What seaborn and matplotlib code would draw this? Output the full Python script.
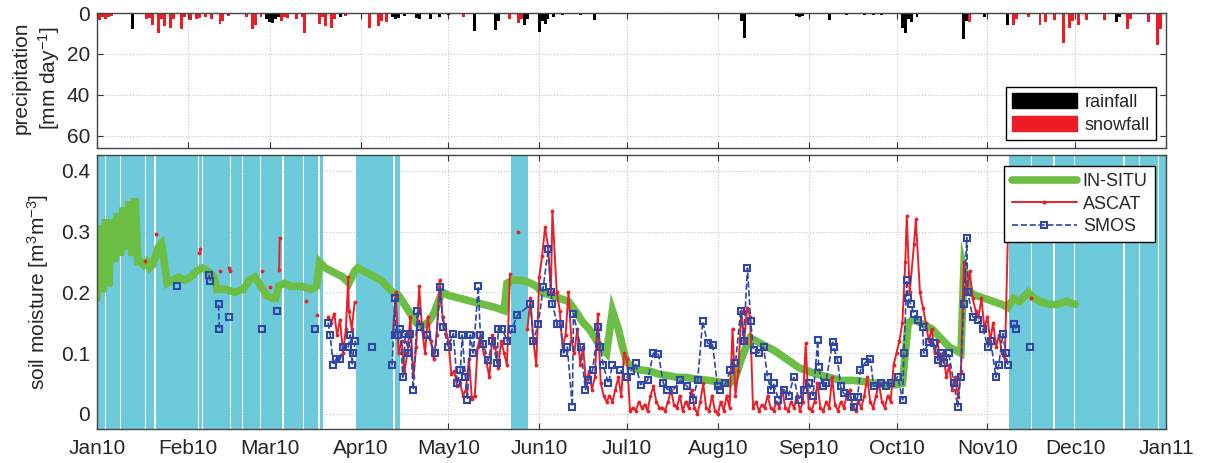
import numpy as np
import pandas as pd
import matplotlib
matplotlib.use("Agg")
import matplotlib.pyplot as plt
import matplotlib.dates as mdates
from matplotlib.lines import Line2D
from matplotlib.patches import Patch
import seaborn as sns

# all days are counted from 1 Jan 2010 (day 0)
rain_day = [12, 34, 58, 59, 60, 61, 62, 83, 101, 102, 103, 105, 109, 110, 114, 117, 120,
            129, 136, 137, 146, 147, 151, 152, 153, 154, 156, 159, 165, 170, 220, 221,
            239, 240, 241, 250, 256, 262, 265, 268, 275, 276, 277, 278, 280, 296, 297,
            303, 311, 348, 349]
rain_mm = [8, 1.5, 3, 4.5, 5, 3, 2, 2, 2, 3, 2.5, 1.5, 2.5, 3, 3, 2, 1,
           8.6, 8.5, 4, 6, 3, 9.5, 4, 5.5, 3, 2, 1, 0.8, 3.2, 4, 12,
           1.5, 2, 1.5, 3.5, 0.8, 1, 1, 1, 7.3, 10, 3, 4.5, 2, 12.5, 4,
           2, 6, 4.5, 2]

snow_day = [0, 1, 2, 3, 4, 5, 17, 18, 19, 21, 22, 23, 25, 26, 29, 30, 32, 34, 35, 37, 39,
            42, 43, 45, 51, 53, 54, 56, 63, 64, 65, 68, 70, 71, 76, 77, 78, 80, 81, 85,
            93, 96, 97, 99, 125, 141, 144, 145, 298, 313, 314, 318, 322, 324, 327, 330,
            332, 333, 335, 338, 344, 352, 353, 359, 362, 363]
snow_mm = [4, 3.5, 2, 3, 2, 1.5, 3, 2.5, 5.7, 9.8, 3, 6.3, 7.3, 3, 8, 2, 3.5, 3, 2.5, 2, 3,
           5.6, 4, 1.5, 2, 8, 6, 2, 4, 2, 2.5, 3, 2, 9.8, 5.6, 2, 6.3, 7.3, 3, 1.5,
           7.3, 6.3, 4, 4.5, 2, 3, 5, 3, 4.5, 6, 3, 2, 6, 4.5, 3.5, 14.6,
           7.3, 4, 6, 3.5, 3.5, 8, 3, 4.5, 15.5, 8]

# frozen-soil periods (shaded)
frozen_start = [0, 3.0, 8.2, 16.8, 20.3, 35.0, 36.3, 45.8, 50.0, 56.0, 63.8, 70.7, 76.0,
                88.5, 101.6, 141.5, 311.3, 319.2, 327.0, 333.9, 350.9, 356.3, 362.6]
frozen_end = [2.6, 7.8, 16.3, 19.6, 34.4, 35.8, 45.4, 49.5, 55.6, 63.2, 70.3, 75.4, 77.3,
              101.2, 103.6, 147.3, 318.8, 326.6, 333.5, 350.5, 355.9, 362.2, 365]

insitu_day = [0, 1, 2, 3, 4, 5, 6, 7, 8, 9, 10, 11, 12, 13, 14, 15, 16, 17, 18, 19, 20, 21, 22,
              23, 24, 26, 28, 30, 32, 34, 36, 38, 40, 41, 44, 47, 50, 52, 54, 56, 58, 60, 61,
              62, 64, 66, 70, 73, 75, 76, 78, 80, 82, 84, 85, 86, 88, 89, 91, 93, 95, 97, 99,
              101, 103, 105, 107, 109, 111, 113, 115, 117, 118, 120, 124, 128, 132, 136, 139,
              140, 142, 145, 148, 150, 152, 155, 158, 161, 164, 166, 168, 170, 172, 174, 175,
              176, 178, 180, 181, 183, 186, 189, 192, 195, 198, 201, 205, 209, 213, 216, 218,
              220, 222, 223, 225, 228, 231, 234, 237, 240, 243, 246, 250, 254, 258, 262, 266,
              270, 273, 275, 276, 277, 279, 281, 283, 285, 287, 289, 291, 293, 295, 296, 297,
              298, 300, 303, 306, 309, 311, 313, 315, 318, 320, 322, 325, 328, 331, 334]
insitu_sm = [.19, .31, .20, .32, .21, .32, .25, .33, .26, .34, .27, .35, .26, .355, .25, .25, .245,
             .25, .24, .245, .26, .275, .28, .25, .215, .22, .225, .22, .225, .235, .24, .235,
             .225, .205, .205, .20, .205, .22, .225, .21, .195, .19, .19, .21, .215, .21, .21,
             .205, .21, .25, .24, .235, .23, .225, .22, .215, .235, .24, .235, .23, .225, .22,
             .21, .20, .195, .18, .165, .15, .145, .15, .165, .19, .20, .195, .19, .185, .18,
             .175, .17, .215, .22, .22, .215, .21, .20, .195, .19, .185, .165, .15, .14, .125,
             .11, .10, .135, .17, .14, .10, .085, .075, .072, .07, .065, .063, .06, .06, .057,
             .055, .052, .05, .06, .09, .115, .125, .12, .112, .105, .095, .085, .075, .07,
             .065, .06, .055, .055, .053, .05, .048, .048, .05, .10, .15, .155, .15, .145, .14,
             .13, .12, .11, .105, .10, .24, .22, .20, .195, .19, .185, .18, .175, .19, .185,
             .20, .19, .185, .18, .18, .185, .18]

nan = np.nan
# nan entries break the line
ascat_day = [16.4, nan, 20.2, nan, 35.0, 35.3, nan, 42.0, nan, 45.1, 45.5, nan, 56.4, nan,
             59.0, nan, 62.2, 62.4, nan, 71.4, nan, 75.2, nan,
             79, 80, 81, 82, 83, 84, 85, 85.8, 86, 87, 88, nan,
             101, 102, 103, 104, 105, 106, 107, 108, 109, 110, 111, 112, 113, 114, 115, 116,
             117, 118, 119, 120, 121, 122, 123, 124, 125, 126, 127, 128, 129, 130, 131, 132,
             133, 134, 135, 136, 137, 138, 139, 140, 141, nan, 143.9, nan,
             147, 148, 149, 150, 151, 152, 153, 154, 155, 155.5, 157, 158, 159, 160, 161, 162,
             163, 164, 165, 166, 167, 168, 169, 170, 171, 172, 173, 174, 175, 176, 177, 178,
             179, 180, 181, 182, 183, 184, 185, 186, 187, 188, 189, 190, 191, 192, 193, 194,
             195, 196, 197, 198, 199, 200, 201, 202, 203, 204, 205, 206, 207, 208, 209, 210,
             211, 212, 213, 214, 215, 216, 217, 218, 219, 220, 221, 222, 223, 224, 225, 226,
             227, 228, 229, 230, 231, 232, 233, 234, 235, 236, 237, 238, 239, 240, 241, 242,
             243, 244, 245, 246, 247, 248, 249, 250, 251, 252, 253, 254, 255, 256, 257, 258,
             259, 260, 261, 262, 263, 264, 265, 266, 267, 268, 269, 270, 271, 272, 273, 274,
             275, 276, 276.5, 277.5, 279, 279.6, 281, 282, 283, 284, 285, 286, 287, 288, 289,
             290, 291, 292, 293, 294, 295, 296, 297, 298, 299, 300, 301, 302, 303, 304, 305,
             306, 307, 308, 309, 310, 311, nan, 318.9]
ascat_sm = [.251, nan, .296, nan, .265, .272, nan, .235, nan, .24, .235, nan, .235, nan,
            .209, nan, .236, .29, nan, .185, nan, .162, nan,
            .16, .15, .165, .13, .155, .10, .14, .225, .17, .14, .184, nan,
            .13, .20, .10, .12, .07, .10, .16, .06, .11, .21, .14, .10, .16, .12, .09, .13,
            .22, .16, .14, .12, .065, .07, .045, .05, .03, .04, .09, .025, .03, .11, .13, .10,
            .085, .06, .13, .11, .075, .12, .10, .08, .23, nan, .30, nan,
            .14, .19, .12, .08, .225, .26, .307, .276, .20, .334, .20, .17, .11, .13, .20, .12,
            .10, .14, .08, .11, .05, .07, .04, .06, .165, .05, .03, .02, .03, .02, .04, .06,
            .03, .10, .09, .005, .01, .005, .02, .01, .015, .005, .03, .045, .02, .01, .01, .005,
            .02, .04, .015, .01, .03, .005, .02, .01, .04, .01, .0, .02, .05, .01, .005, .03,
            .005, .0, .02, .005, .03, .01, .14, .03, .07, .17, .12, .175, .16, .01, .02, .005,
            .015, .01, .03, .01, .005, .02, .01, .04, .01, .005, .02, .01, .03, .005, .02, .116,
            .01, .005, .02, .05, .01, .005, .02, .01, .06, .015, .005, .02, .01, .03, .04, .01,
            .005, .02, .01, .03, .06, .02, .01, .03, .05, .02, .01, .03, .02, .08, .10, .12,
            .15, .25, .326, .20, .28, .32, .20, .175, .15, .12, .14, .10, .12, .08, .10,
            .06, .08, .04, .06, .028, .07, .25, .20, .235, .19, .17, .16, .19, .14, .16, .12,
            .15, .11, .13, .10, .09, .29, nan, .19]

smos_day = [27.3, nan, 38.3, 38.6, nan, 41.5, 41.8, nan, 45.1, nan, 56.4, nan, 61.5, nan,
            74.5, nan,
            78.9, 79.6, 80.7, 81.6, 83.0, 84.0, 85.8, 86.5, 87.1, 87.5, 88.2, nan, 94.0, nan,
            100.8, 101.7, 101.9, 102.7, 103.6, 104.4, 105.3, 106.3, 107.0, 108.0, 109.4,
            110.4, 112.8, 115.5, 117.2, 118.2, 120.0, 121.7, 123.0, 124.1, 124.7, 125.8,
            126.5, 127.5, 128.5, 130.2, 130.9, 131.9, 133.6, 135.0, 136.7, 137.0, 138.4,
            140.1, 141.8, 143.5, 148.0, 149.0, 150.7, 152.4, 154.1, 155.0, 155.5, 157.2,
            158.2, 159.3, 160.6, 162.3, 162.7, 165.1, 166.8, 167.8, 169.2, 171.2, 171.9,
            172.9, 174.6, 176.0, 178.7, 181.1, 182.2, 183.9, 185.6, 188.0, 190.0, 191.7,
            193.4, 194.8, 196.9, 199.2, 201.6, 203.4, 205.1, 206.8, 208.5, 210.2, 211.9,
            212.9, 214.6, 216.3, 218.0, 219.8, 220.8, 222.1, 223.2, 224.2, 225.9, 227.6,
            229.0, 230.0, 231.0, 232.7, 234.5, 236.2, 237.9, 239.6, 241.3, 243.0, 244.5,
            246.1, 246.4, 247.8, 248.8, 251.2, 251.5, 252.9, 253.9, 254.9, 257.3, 258.4,
            259.7, 260.7, 262.4, 264.1, 265.2, 267.6, 269.3, 271.0, 273.4, 275.1, 275.5,
            276.5, 277.0, 277.9, 278.9, 280.2, 281.9, 282.3, 284.0, 285.7, 287.1, 288.1,
            289.1, 290.8, 292.6, 293.9, 294.9, 296.0, 297.0, 297.3, 299.0, 300.8, 302.5,
            304.2, 305.2, 306.9, 307.9, 309.3, 310.3, 311.0, nan, 313.1, 313.7, nan, 318.5]
smos_sm = [.21, nan, .229, .219, nan, .18, .14, nan, .16, nan, .14, nan, .17, nan,
           .14, nan,
           .15, .13, .08, .09, .09, .11, .11, .13, .08, .10, .12, nan, .11, nan,
           .08, .19, .13, .13, .14, .06, .132, .10, .132, .04, .17,
           .143, .13, .10, .209, .143, .11, .132, .05, .072, .13, .06,
           .023, .13, .10, .21, .13, .115, .088, .12, .083, .14, .14,
           .12, .14, .162, .18, .12, .148, .209, .272, .20, .18, .148,
           .148, .10, .11, .012, .165, .11, .04, .055, .072, .143, .11,
           .08, .05, .08, .072, .06, .07, .083, .048, .055, .10, .098,
           .05, .04, .04, .055, .045, .023, .055, .152, .116, .114, .045,
           .04, .05, .072, .083, .17, .12, .24, .152, .105, .10, .11,
           .06, .04, .05, .023, .04, .03, .06, .023, .04, .05, .03,
           .121, .077, .045, .05, .118, .11, .088, .045, .034, .028, .012,
           .028, .072, .085, .09, .045, .05, .045, .05, .061, .023, .10,
           .22, .19, .18, .165, .155, .143, .10, .118, .116, .088, .10,
           .083, .10, .05, .012, .061, .18, .29, .20, .16, .155, .14,
           .11, .12, .06, .08, .132, .10, .08, nan, .148, .14, nan, .11]

start = pd.Timestamp("2010-01-01")
green = "#6DBE45"
red = "#E8202A"
blue = "#2E47A8"
cyan = "#6CCADB"


def series(day, val):
    df = pd.DataFrame({"day": day, "val": val})
    df["seg"] = df["val"].isna().cumsum()
    df = df.dropna().copy()
    df["date"] = start + pd.to_timedelta(df["day"], unit="D")
    return df


sns.set_style("ticks")
plt.rcParams["font.family"] = ["Liberation Sans", "DejaVu Sans"]
plt.rcParams["mathtext.fontset"] = "custom"
plt.rcParams["mathtext.rm"] = "Liberation Sans"
plt.rcParams["mathtext.default"] = "regular"
plt.rcParams["xtick.direction"] = "in"
plt.rcParams["ytick.direction"] = "in"

fig = plt.figure(figsize=(12.06, 4.63), dpi=100)
ax1 = fig.add_axes([0.0804, 0.6803, 0.8864, 0.2916])
ax2 = fig.add_axes([0.0804, 0.0734, 0.8864, 0.5918])

# precipitation panel
rain_dates = start + pd.to_timedelta(rain_day, unit="D")
snow_dates = start + pd.to_timedelta(snow_day, unit="D")
ax1.bar(rain_dates, rain_mm, width=1.0, color="black", linewidth=0, zorder=2)
ax1.bar(snow_dates, snow_mm, width=1.0, color="#ED1C24", linewidth=0, zorder=2)
ax1.set_ylim(66, 0)
ax1.set_yticks([0, 20, 40, 60])
ax1.set_yticklabels(["0", "20", "40", "60"])
ax1.set_ylabel("precipitation\n[mm day$^{-1}$]", fontsize=15, linespacing=1.25)
ax1.yaxis.set_label_coords(-0.033, 0.52)
ax1.legend(handles=[Patch(facecolor="black", edgecolor="black", label="rainfall"),
                    Patch(facecolor="#ED1C24", edgecolor="#ED1C24", label="snowfall")],
           loc="lower right", bbox_to_anchor=(0.9906, 0.059), borderaxespad=0,
           fontsize=13, handlelength=3.6, handleheight=0.9, handletextpad=0.4,
           labelspacing=0.3, borderpad=0.35, fancybox=False, framealpha=1,
           edgecolor="black")

# soil moisture panel
for s, e in zip(frozen_start, frozen_end):
    ax2.axvspan(start + pd.Timedelta(days=s), start + pd.Timedelta(days=e),
                color=cyan, lw=0, zorder=1)

insitu = series(insitu_day, insitu_sm)
ascat = series(ascat_day, ascat_sm)
smos = series(smos_day, smos_sm)

sns.lineplot(data=insitu, x="date", y="val", color=green, lw=5.5, ax=ax2,
             legend=False, zorder=2, solid_joinstyle="miter")
sns.lineplot(data=ascat, x="date", y="val", units="seg", estimator=None, color=red,
             lw=1.4, marker=".", markersize=4, markeredgecolor=red, ax=ax2,
             legend=False, zorder=3)
sns.lineplot(data=smos, x="date", y="val", units="seg", estimator=None, color=blue,
             lw=1.2, linestyle="--", marker="s", markersize=4.5, markerfacecolor="none",
             markeredgecolor=blue, markeredgewidth=1.5, ax=ax2, legend=False, zorder=4)

ax2.set_ylim(-0.025, 0.426)
ax2.set_yticks([0, 0.1, 0.2, 0.3, 0.4])
ax2.set_yticklabels(["0", "0.1", "0.2", "0.3", "0.4"])
ax2.set_ylabel("soil moisture [m$^3$m$^{-3}$]", fontsize=15)
ax2.yaxis.set_label_coords(-0.043, 0.5)
ax2.set_xlabel("")
ax2.legend(handles=[Line2D([], [], color=green, lw=5.5, label="IN-SITU"),
                    Line2D([], [], color=red, lw=1.4, marker=".", markersize=4, label="ASCAT"),
                    Line2D([], [], color=blue, lw=1.2, ls="--", marker="s", markersize=4.5,
                           mfc="none", mec=blue, mew=1.5, label="SMOS")],
           loc="upper right", bbox_to_anchor=(0.9897, 0.96), borderaxespad=0,
           fontsize=13, handlelength=3.6, handletextpad=0.35, labelspacing=0.3,
           borderpad=0.4, fancybox=False, framealpha=1, edgecolor="black")

for ax in (ax1, ax2):
    ax.set_xlim(start, pd.Timestamp("2011-01-01"))
    ax.xaxis.set_major_locator(mdates.MonthLocator())
    ax.xaxis.set_major_formatter(mdates.DateFormatter("%b%y"))
    ax.grid(True, color="#c4c4c4", ls=":", lw=0.8)
    ax.set_axisbelow(True)
    ax.tick_params(axis="both", which="major", labelsize=15, length=4, width=0.8,
                   top=True, right=True, color="#333333", pad=5)
    for sp in ax.spines.values():
        sp.set_color("#444444")
        sp.set_linewidth(1.0)
    ax.set_xlabel("")

ax1.tick_params(axis="x", labelbottom=False)
ax2.tick_params(axis="x", pad=7)

fig.savefig("out.png", dpi=100)
